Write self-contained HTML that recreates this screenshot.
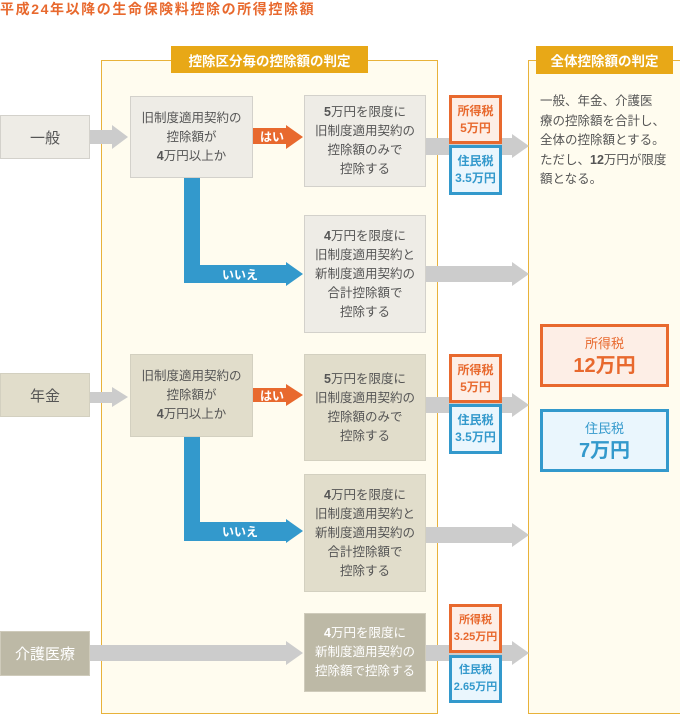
<!DOCTYPE html>
<html><head><meta charset="utf-8">
<style>
body{margin:0;width:680px;height:714px;background:#fff;position:relative;overflow:hidden;font-family:"Liberation Sans","Noto Sans CJK JP",sans-serif;color:#555}
.a{position:absolute;box-sizing:border-box}
.c{display:flex;align-items:center;justify-content:center;text-align:center}
.g{background:#eeece6;border:1px solid #d3d1cb}
.b{background:#e1ddcb;border:1px solid #d3d0c0}
.d{background:#bdb9a6;border:1px solid #cfcbbb;color:#fff}
.t{font-size:12.5px;line-height:19px}
.o{background:#fdeee6;border:3px solid #e8692e;color:#e8692e;font-weight:bold;font-size:12px;line-height:17px}
.bl{background:#eaf6fd;border:3px solid #3399cc;color:#3399cc;font-weight:bold;font-size:12px;line-height:17px}
.hd{background:#e8a817;color:#fff;font-weight:bold;font-size:13.5px}
</style></head><body>
<div class="a" style="left:0;top:0;font-size:14px;font-weight:bold;color:#e8692e;letter-spacing:1.6px;line-height:18px">平成24年以降の生命保険料控除の所得控除額</div>

<div class="a" style="left:101px;top:60px;width:337px;height:654px;border:1px solid #e8b23a;background:#fffcef"></div>
<div class="a" style="left:528px;top:60px;width:152px;height:654px;border:1px solid #e8b23a;border-right:none;background:#fffcef"></div>
<div class="a hd c" style="left:171px;top:46px;width:197px;height:27px">控除区分毎の控除額の判定</div>
<div class="a hd c" style="left:536px;top:46px;width:137px;height:28px">全体控除額の判定</div>

<svg class="a" style="left:0;top:0" width="680" height="714">
<g fill="#cccccc">
<polygon points="89,130 112,130 112,125 128,137 112,149 112,144 89,144"/>
<polygon points="426,138 512,138 512,134 529,146 512,158 512,155 426,155"/>
<polygon points="426,266 512,266 512,262 529,274 512,286 512,282 426,282"/>
<polygon points="89,392 112,392 112,387 128,397 112,407 112,403 89,403"/>
<polygon points="426,397 512,397 512,393 529,405 512,417 512,413 426,413"/>
<polygon points="426,527 512,527 512,523 529,535 512,547 512,543 426,543"/>
<polygon points="89,645 286,645 286,641 303,653 286,665 286,661 89,661"/>
<polygon points="426,645 512,645 512,641 529,653 512,665 512,661 426,661"/>
</g>
<g fill="#e8692e">
<polygon points="253,128 286,128 286,125 303,137 286,149 286,144 253,144"/>
<polygon points="253,388 286,388 286,384 303,395 286,406 286,402 253,402"/>
</g>
<g fill="#3399cc">
<polygon points="184,178 200,178 200,265 286,265 286,262 303,274 286,286 286,283 184,283"/>
<polygon points="184,437 200,437 200,522 286,522 286,519 303,531 286,543 286,541 184,541"/>
</g>
<g fill="#fff" font-weight="bold" font-size="12" font-family="Liberation Sans,Noto Sans CJK JP,sans-serif">
<text x="260" y="141">はい</text>
<text x="260" y="400">はい</text>
<text x="222" y="279">いいえ</text>
<text x="222" y="536">いいえ</text>
</g>
</svg>

<div class="a g c" style="left:0;top:115px;width:90px;height:44px;font-size:15px">一般</div>
<div class="a b c" style="left:0;top:373px;width:90px;height:44px;font-size:15px">年金</div>
<div class="a d c" style="left:0;top:631px;width:90px;height:45px;font-size:15px">介護医療</div>

<div class="a g c t" style="left:130px;top:96px;width:123px;height:82px"><div>旧制度適用契約の<br>控除額が<br><b>4</b>万円以上か</div></div>
<div class="a b c t" style="left:130px;top:354px;width:123px;height:83px"><div>旧制度適用契約の<br>控除額が<br><b>4</b>万円以上か</div></div>

<div class="a g c t" style="left:304px;top:95px;width:122px;height:92px"><div><b>5</b>万円を限度に<br>旧制度適用契約の<br>控除額のみで<br>控除する</div></div>
<div class="a g c t" style="left:304px;top:215px;width:122px;height:118px"><div><b>4</b>万円を限度に<br>旧制度適用契約と<br>新制度適用契約の<br>合計控除額で<br>控除する</div></div>
<div class="a b c t" style="left:304px;top:354px;width:122px;height:107px"><div><b>5</b>万円を限度に<br>旧制度適用契約の<br>控除額のみで<br>控除する</div></div>
<div class="a b c t" style="left:304px;top:474px;width:122px;height:118px"><div><b>4</b>万円を限度に<br>旧制度適用契約と<br>新制度適用契約の<br>合計控除額で<br>控除する</div></div>
<div class="a d c t" style="left:304px;top:613px;width:122px;height:79px"><div><b>4</b>万円を限度に<br>新制度適用契約の<br>控除額で控除する</div></div>

<div class="a o c" style="left:449px;top:95px;width:53px;height:49px">所得税<br>5万円</div>
<div class="a bl c" style="left:449px;top:145px;width:53px;height:50px">住民税<br>3.5万円</div>
<div class="a o c" style="left:449px;top:354px;width:53px;height:49px">所得税<br>5万円</div>
<div class="a bl c" style="left:449px;top:404px;width:53px;height:50px">住民税<br>3.5万円</div>
<div class="a o c" style="left:449px;top:604px;width:53px;height:49px;font-size:11px">所得税<br>3.25万円</div>
<div class="a bl c" style="left:449px;top:655px;width:53px;height:48px;font-size:11px">住民税<br>2.65万円</div>

<div class="a" style="left:540px;top:92px;width:140px;font-size:12.5px;line-height:19.5px;white-space:nowrap">一般、年金、介護医<br>療の控除額を合計し、<br>全体の控除額とする。<br>ただし、<b>12</b>万円が限度<br>額となる。</div>

<div class="a o c" style="left:540px;top:324px;width:129px;height:63px;font-size:13px;line-height:22px;font-weight:normal"><div>所得税<br><b style="font-size:20px">12万円</b></div></div>
<div class="a bl c" style="left:540px;top:409px;width:129px;height:63px;font-size:13px;line-height:22px;font-weight:normal"><div>住民税<br><b style="font-size:20px">7万円</b></div></div>
</body></html>
